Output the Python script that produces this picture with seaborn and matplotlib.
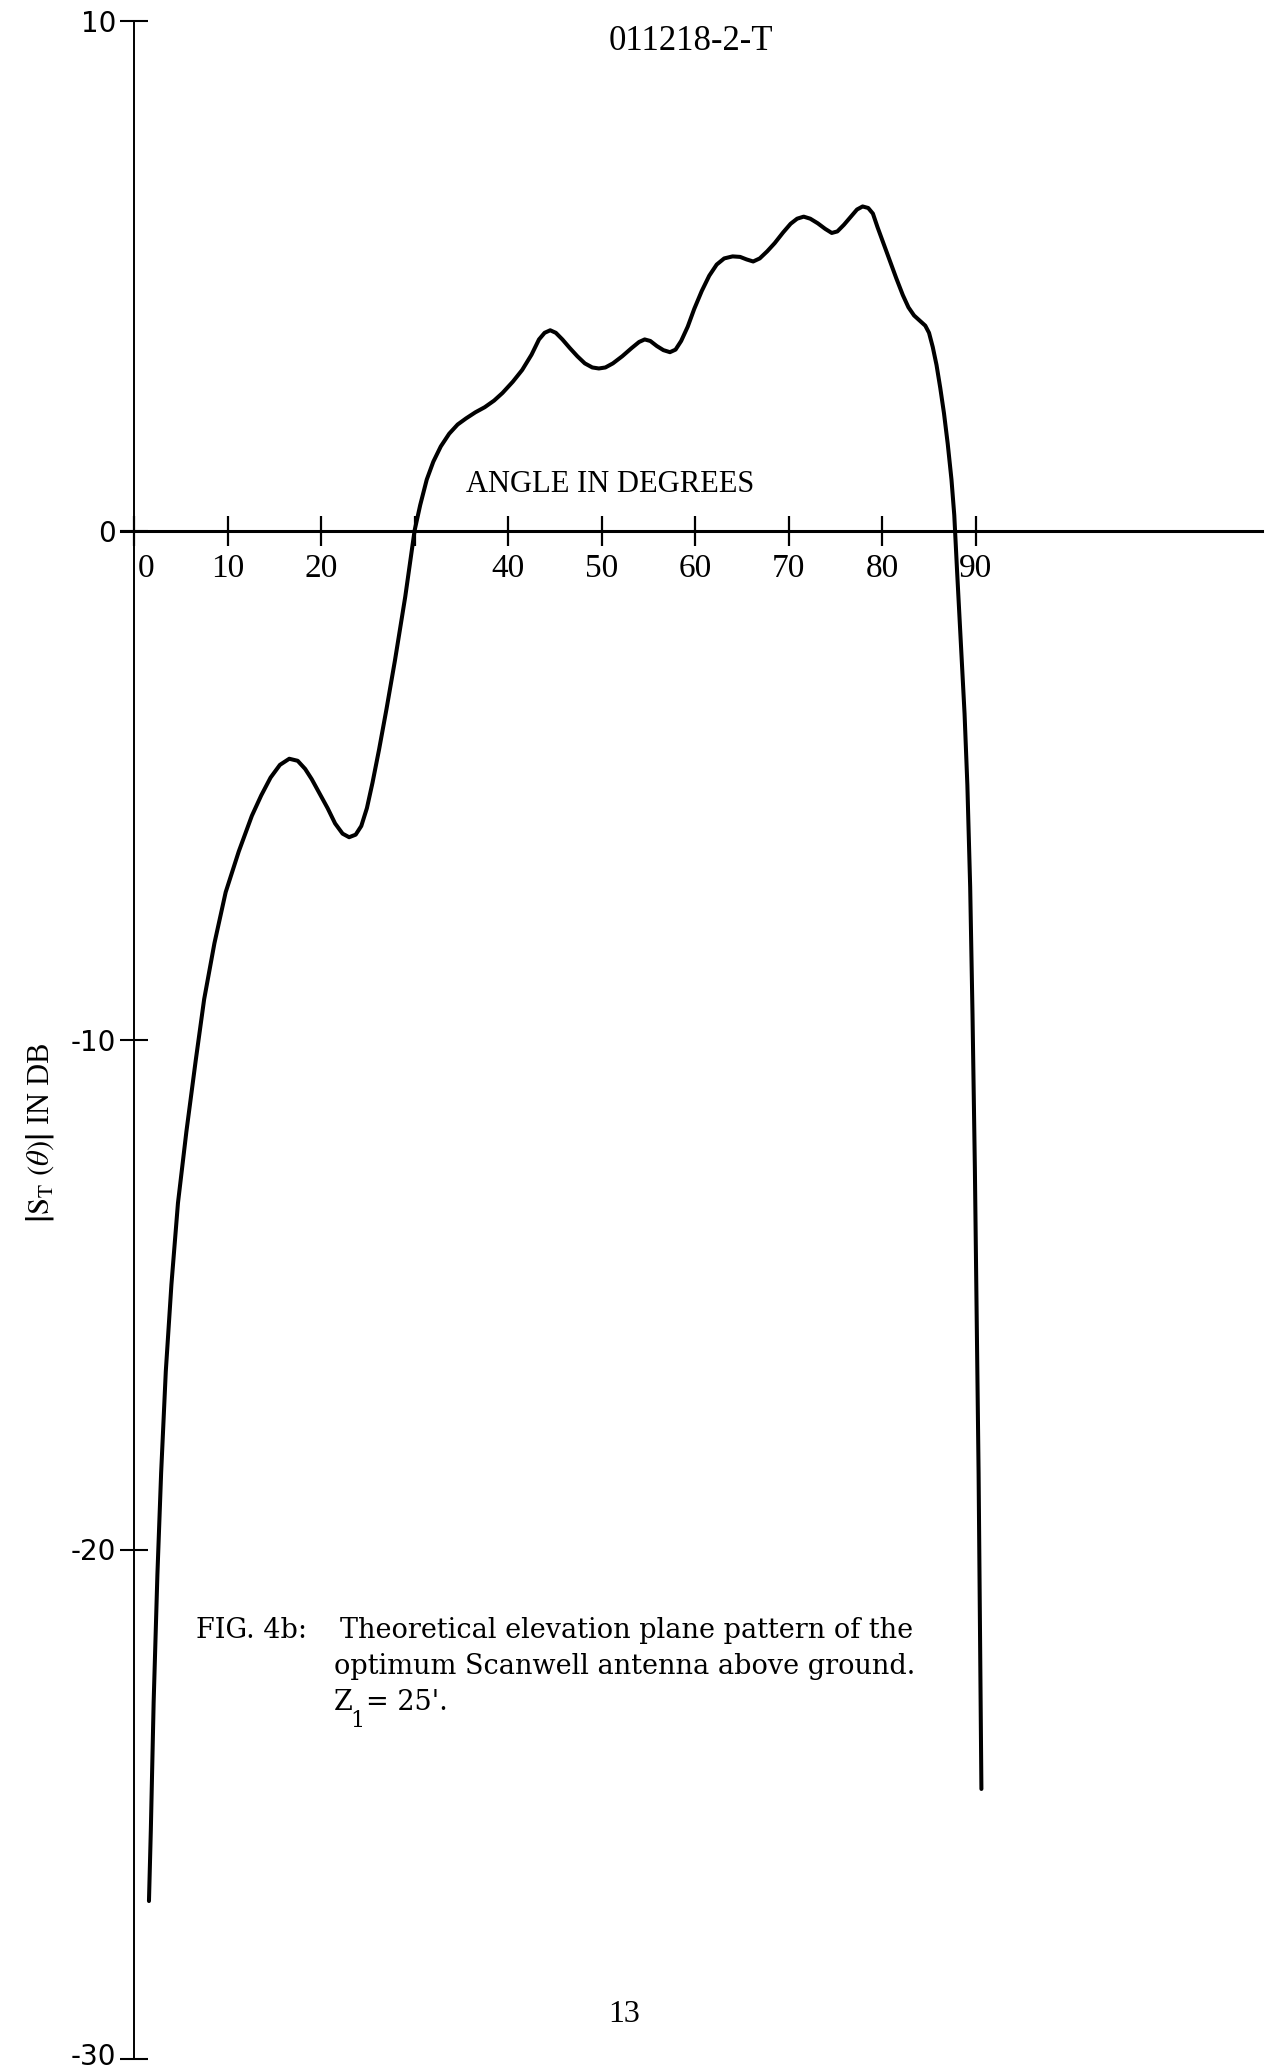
import matplotlib
matplotlib.use('Agg')
import matplotlib.pyplot as plt
import matplotlib.transforms as mtransforms
import seaborn as sns
import pandas as pd

# Elevation plane pattern
angle_deg = [1.6, 1.8, 2.1, 2.5, 2.9, 3.4, 4.0, 4.7, 5.6, 6.6,
             7.5, 8.6, 9.8, 11.2, 12.6, 13.6, 14.6, 15.6, 16.6, 17.5,
             18.3, 19.0, 19.8, 20.7, 21.5, 22.3, 23.0, 23.7, 24.3, 24.9,
             25.5, 26.2, 27.0, 27.9, 29.0, 30.0, 30.6, 31.3, 32.0, 32.8,
             33.7, 34.6, 35.5, 36.5, 37.5, 38.5, 39.4, 40.5, 41.5, 42.5,
             43.3, 43.9, 44.5, 45.1, 45.8, 46.6, 47.4, 48.2, 49.0, 49.7,
             50.4, 51.2, 52.2, 53.2, 54.0, 54.6, 55.2, 55.9, 56.6, 57.3,
             57.9, 58.5, 59.2, 59.9, 60.7, 61.5, 62.3, 63.1, 64.0, 64.8,
             65.5, 66.2, 66.9, 67.7, 68.5, 69.4, 70.2, 70.9, 71.6, 72.3,
             73.1, 73.9, 74.6, 75.2, 75.9, 76.6, 77.3, 77.9, 78.5, 79.0,
             79.5, 80.1, 80.8, 81.5, 82.2, 82.8, 83.4, 84.0, 84.6, 85.0,
             85.4, 85.8, 86.2, 86.6, 87.0, 87.4, 87.7, 88.0, 88.4, 88.8,
             89.1, 89.4, 89.65, 89.9, 90.1, 90.3, 90.45, 90.6]
gain_db = [-26.9, -25.5, -23.0, -20.5, -18.5, -16.5, -14.8, -13.2, -11.8, -10.4,
           -9.2, -8.1, -7.1, -6.3, -5.6, -5.2, -4.85, -4.6, -4.48, -4.52,
           -4.68, -4.88, -5.15, -5.45, -5.75, -5.95, -6.02, -5.97, -5.8, -5.45,
           -4.95, -4.3, -3.5, -2.55, -1.3, 0.0, 0.5, 1.0, 1.35, 1.65,
           1.9, 2.08, 2.2, 2.32, 2.42, 2.55, 2.7, 2.92, 3.15, 3.45,
           3.75, 3.88, 3.93, 3.88, 3.75, 3.58, 3.42, 3.28, 3.2, 3.18,
           3.2, 3.28, 3.42, 3.58, 3.7, 3.75, 3.72, 3.62, 3.54, 3.5,
           3.55, 3.72, 4.0, 4.35, 4.7, 5.0, 5.22, 5.34, 5.38, 5.37,
           5.32, 5.28, 5.34, 5.48, 5.64, 5.85, 6.02, 6.12, 6.16, 6.12,
           6.03, 5.92, 5.84, 5.87, 6.0, 6.15, 6.3, 6.36, 6.33, 6.22,
           5.95, 5.65, 5.3, 4.95, 4.62, 4.38, 4.22, 4.12, 4.02, 3.88,
           3.6, 3.25, 2.8, 2.3, 1.7, 1.0, 0.3, -0.8, -2.2, -3.6,
           -5.0, -7.0, -9.5, -12.5, -15.5, -18.5, -21.5, -24.7]

x_ticks = [0, 10, 20, 30, 40, 50, 60, 70, 80, 90]
x_tick_labels = ['0', '10', '20', '', '40', '50', '60', '70', '80', '90']
y_ticks = [10, 0, -10, -20, -30]
y_tick_labels = ['10', '0', '-10', '-20', '-30']

df = pd.DataFrame({'angle': angle_deg, 'gain': gain_db})

sns.set_style('white')
plt.rcParams['font.family'] = ['Liberation Serif', 'DejaVu Serif']
plt.rcParams['mathtext.fontset'] = 'stix'
plt.rcParams['text.color'] = 'black'

W, H = 1270, 2071
fig = plt.figure(figsize=(W / 100, H / 100), dpi=100)
fig.patch.set_facecolor('white')

# axes placed so the data frame lines up with the page
ax = fig.add_axes([121 / W, 1 - 2059 / H, (1262 - 121) / W, (2059 - 21) / H])
ax.set_facecolor('none')

sns.lineplot(data=df, x='angle', y='gain', ax=ax, color='black', linewidth=2.9,
             sort=False, estimator=None, solid_capstyle='round', solid_joinstyle='round')

ax.set_xlim(-1.39, 120.6)
ax.set_ylim(-30, 10)

ax.spines['left'].set_position(('data', 0))
ax.spines['bottom'].set_position(('data', 0))
ax.spines['right'].set_visible(False)
ax.spines['top'].set_visible(False)
ax.spines['left'].set_linewidth(1.4)
ax.spines['bottom'].set_linewidth(2.2)
for s in ('left', 'bottom'):
    ax.spines[s].set_color('black')

ax.set_xticks(x_ticks)
ax.set_xticklabels(x_tick_labels, fontsize=24, family=['Liberation Serif', 'DejaVu Serif'])
ax.set_yticks(y_ticks)
ax.set_yticklabels(y_tick_labels, fontsize=20, family=['DejaVu Sans'])
ax.tick_params(axis='x', bottom=True, direction='inout', length=21, width=1.6, pad=6,
               colors='black')
ax.tick_params(axis='y', left=True, direction='inout', length=20, width=1.5, pad=3,
               colors='black')

# the "0" sits just right of the vertical axis
zero_lbl = ax.get_xticklabels()[0]
zero_lbl.set_horizontalalignment('left')
zero_lbl.set_transform(zero_lbl.get_transform() +
                       mtransforms.ScaledTranslation(4 / 100, 0, fig.dpi_scale_trans))

# keep the bottom label inside the page
low_lbl = ax.get_yticklabels()[-1]
low_lbl.set_transform(low_lbl.get_transform() +
                      mtransforms.ScaledTranslation(0, 5 / 100, fig.dpi_scale_trans))

ax.set_xlabel('')
ax.set_ylabel('')

# page texts
def px(x, y):
    return x / W, 1 - y / H

fig.text(*px(691, 42), '011218-2-T', fontsize=25, ha='center', va='center')
fig.text(*px(610, 484), 'ANGLE IN DEGREES', fontsize=22, ha='center', va='center')

fig.text(*px(40, 1133), r'$\left|\mathrm{S}_{\mathrm{T}}\ (\theta)\right|$ IN DB', fontsize=22,
         rotation=90, ha='center', va='center')

cap = dict(fontsize=19.5, family=['DejaVu Serif'], va='center', ha='left')
fig.text(*px(196, 1630), 'FIG. 4b:', **cap)
fig.text(*px(340, 1630), 'Theoretical elevation plane pattern of the', **cap)
fig.text(*px(334, 1667), 'optimum Scanwell antenna above ground.', **cap)
fig.text(*px(334, 1703), 'Z', **cap)
fig.text(*px(350, 1721), '1', fontsize=16, family=['DejaVu Serif'], va='center', ha='left')
fig.text(*px(366, 1703), "= 25'.", **cap)

fig.text(*px(624, 2015), '13', fontsize=23, ha='center', va='center')

fig.savefig('out.png', dpi=100, facecolor='white')
